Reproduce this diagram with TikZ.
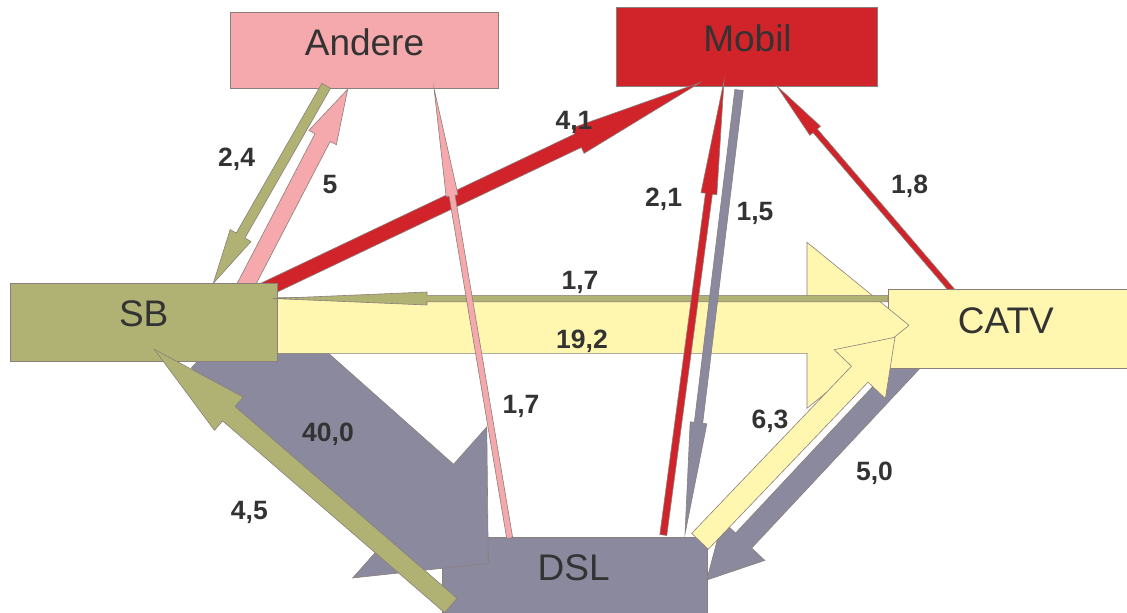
\documentclass[tikz,border=0pt]{standalone}
\usepackage{fontspec}
\setmainfont{Liberation Sans}
\usetikzlibrary{calc}
\definecolor{cOlive}{HTML}{B0B274}
\definecolor{cPink}{HTML}{F6A9AC}
\definecolor{cRed}{HTML}{D0232A}
\definecolor{cYellow}{HTML}{FFF6B0}
\definecolor{cGrey}{HTML}{8B899E}
\definecolor{cText}{HTML}{333333}
\definecolor{cEdge}{HTML}{8A7F7A}
% #1 fill, #2 start, #3 tip, #4 shaft half width, #5 head half width, #6 head length
\newcommand\blockarrow[6]{%
  \filldraw[flowarrow, fill=#1]
    ($(#2)!#4!90:(#3)$) --
    ($(#3)!#6!(#2)!#4!90:(#3)$) --
    ($(#3)!#6!(#2)!#5!90:(#3)$) --
    (#3) --
    ($(#3)!#6!(#2)!#5!-90:(#3)$) --
    ($(#3)!#6!(#2)!#4!-90:(#3)$) --
    ($(#2)!#4!-90:(#3)$) -- cycle;}
\tikzset{
  flowarrow/.style={draw=cEdge, line width=0.6pt, line join=miter, miter limit=20},
  bx/.style={rectangle, draw=cEdge, line width=0.8pt, inner sep=0pt},
  boxtext/.style={anchor=base, inner sep=0pt, text=cText, font=\fontsize{37}{40}\selectfont},
  lbl/.style={anchor=base, inner sep=0pt, text=cText, font=\fontsize{26.5}{30}\selectfont\bfseries},
}
\begin{document}
\begin{tikzpicture}[x=1pt, y=-1pt]
\useasboundingbox (0,0) rectangle (1127,613);
\clip (0,0) rectangle (1127,613);
\fill[white] (0,0) rectangle (1127,613);

% boxes (top and DSL)
\node[bx, fill=cPink, minimum width=268pt, minimum height=76pt] (andere) at (364,50) {};
\node[bx, fill=cRed, minimum width=261pt, minimum height=79pt] (mobil) at (746.5,46.5) {};
\node[bx, fill=cGrey, minimum width=265pt, minimum height=88pt] (dsl) at (574.5,581) {};

% arrow end points
\coordinate (s40) at (225.2,329.8);  \coordinate (e40) at (488.3,563.3);
\coordinate (s50) at (922.2,349.8);  \coordinate (e50) at (706.7,580);
\coordinate (s18) at (955,294);      \coordinate (e18) at (776.8,86);
\coordinate (s192) at (250,325.3);   \coordinate (e192) at (909,325.3);
\coordinate (s5) at (242.2,292.2);   \coordinate (e5) at (347.7,89.3);
\coordinate (s24) at (326.2,85.8);   \coordinate (e24) at (213.3,283.3);
\coordinate (s41) at (262,291);      \coordinate (e41) at (700,82.7);
\coordinate (s17o) at (888,298.5);   \coordinate (e17o) at (273,298.5);
\coordinate (s17p) at (509.7,538);   \coordinate (e17p) at (434,88.3);
\coordinate (s21) at (663.3,535);    \coordinate (e21) at (724,80.7);
\coordinate (s15) at (739,90);       \coordinate (e15) at (685,534);
\coordinate (s63) at (700,541.3);    \coordinate (e63) at (895,337.3);
\coordinate (s45) at (450.8,605.5);  \coordinate (e45) at (154.3,349.3);

\blockarrow{cGrey}{s40}{e40}{51pt}{101pt}{91.7pt}
\blockarrow{cGrey}{s50}{e50}{11pt}{29pt}{54pt}
\blockarrow{cRed}{s18}{e18}{2.8pt}{7pt}{59pt}

\node[bx, fill=cYellow, minimum width=265pt, minimum height=79pt] (catv) at (1020.5,328.5) {};

\blockarrow{cYellow}{s192}{e192}{28pt}{83pt}{102pt}
\blockarrow{cPink}{s5}{e5}{8.5pt}{15.5pt}{54.4pt}
\blockarrow{cOlive}{s24}{e24}{5pt}{12pt}{55pt}
\blockarrow{cRed}{s41}{e41}{7.5pt}{14pt}{135pt}

\node[bx, fill=cOlive, minimum width=267pt, minimum height=78pt] (sb) at (143.5,322) {};

\blockarrow{cOlive}{s17o}{e17o}{3.2pt}{6.5pt}{154pt}
\blockarrow{cPink}{s17p}{e17p}{3pt}{6pt}{109pt}
\blockarrow{cRed}{s21}{e21}{3.5pt}{8pt}{114pt}
\blockarrow{cGrey}{s15}{e15}{4.2pt}{8.4pt}{112pt}
\blockarrow{cYellow}{s63}{e63}{11.5pt}{35.4pt}{51pt}
\blockarrow{cOlive}{s45}{e45}{9.5pt}{22pt}{98.5pt}

% box texts
\node[boxtext] (tandere) at (364.5,55) {Andere};
\node[boxtext] (tmobil) at (747.5,51.7) {Mobil};
\node[boxtext] (tsb) at (143.7,326.7) {SB};
\node[boxtext] (tcatv) at (1005.8,333.3) {CATV};
\node[boxtext] (tdsl) at (573.7,580) {DSL};

% flow labels
\node[lbl] (l24) at (236.6,166.7) {2,4};
\node[lbl] (l5) at (330,193) {5};
\node[lbl] (l41) at (574,129.3) {4,1};
\node[lbl] (l21) at (663.6,206.7) {2,1};
\node[lbl] (l15) at (755,220) {1,5};
\node[lbl] (l18) at (909.6,193) {1,8};
\node[lbl] (l17o) at (580,289) {1,7};
\node[lbl] (l192) at (582,348) {19,2};
\node[lbl] (l17p) at (521,413) {1,7};
\node[lbl] (l40) at (328,441) {40,0};
\node[lbl] (l45) at (249.4,519) {4,5};
\node[lbl] (l63) at (770,428.3) {6,3};
\node[lbl] (l50) at (874.5,480) {5,0};
\end{tikzpicture}
\end{document}
